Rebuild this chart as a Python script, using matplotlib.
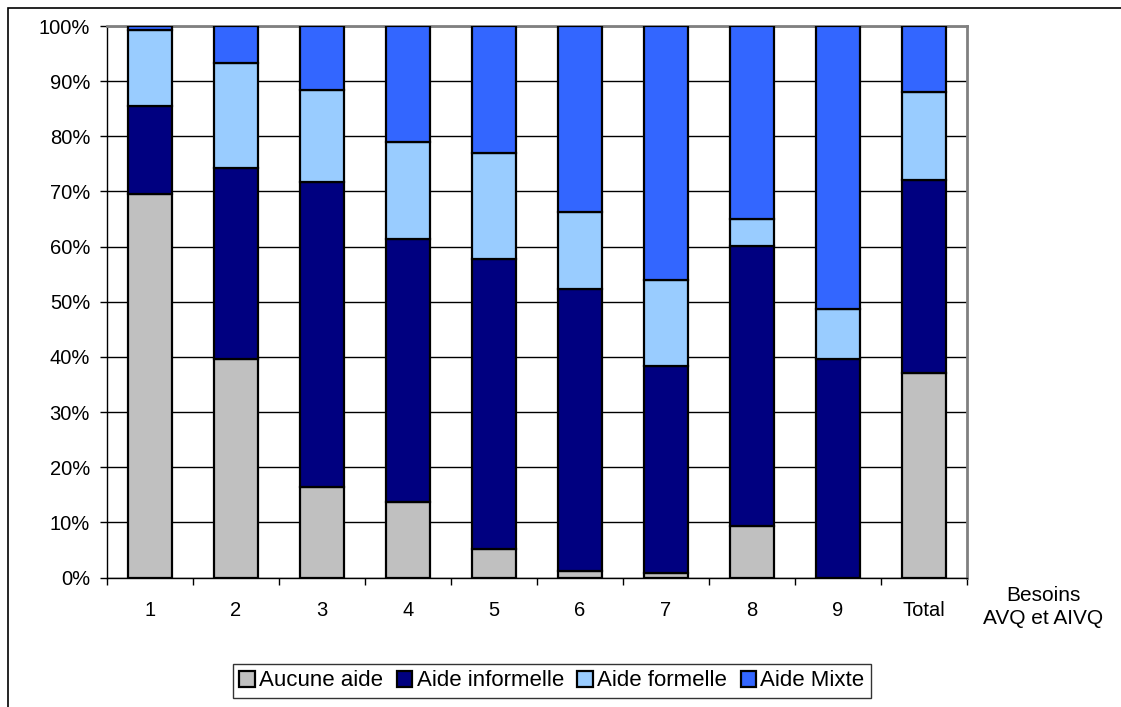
import matplotlib.pyplot as plt
import numpy as np
from matplotlib.patches import Rectangle

plt.rcParams['font.family'] = ['Liberation Sans', 'DejaVu Sans']

# categories (besoins AVQ et AIVQ)
categories = ['1', '2', '3', '4', '5', '6', '7', '8', '9', 'Total']

# parts en %
aucune = [69.5, 39.7, 16.5, 13.6, 5.1, 1.1, 0.9, 9.3, 0.0, 37.1]
informelle = [16.0, 34.6, 55.2, 47.8, 52.6, 51.2, 37.4, 50.8, 39.6, 35.0]
formelle = [13.7, 19.0, 16.7, 17.5, 19.3, 14.0, 15.6, 4.9, 9.0, 15.9]
mixte = [0.8, 6.7, 11.6, 21.1, 23.0, 33.7, 46.1, 35.0, 51.4, 12.0]

series = [('Aucune aide', aucune, '#C0C0C0'),
          ('Aide informelle', informelle, '#000080'),
          ('Aide formelle', formelle, '#99CCFF'),
          ('Aide Mixte', mixte, '#3366FF')]

fig = plt.figure(figsize=(11.21, 7.07), dpi=100)
ax = fig.add_axes([106.7/1121, 1-577.5/707, (966.7-106.7)/1121, (577.5-26)/707])

x = np.arange(len(categories))
bottom = np.zeros(len(categories))
for label, vals, col in series:
    ax.bar(x, vals, 0.51, bottom=bottom, color=col, edgecolor='black',
           linewidth=1.6, label=label, zorder=3)
    bottom += np.array(vals)

ax.set_xlim(-0.5, len(categories) - 0.5)
ax.set_ylim(0, 100)
ax.set_yticks(np.arange(0, 101, 10))
ax.set_yticklabels([f'{v}%' for v in range(0, 101, 10)], fontsize=14.5)
ax.yaxis.grid(True, color='black', linewidth=1, zorder=0)

ax.set_xticks(np.arange(-0.5, len(categories), 1))
ax.set_xticklabels([])
ax.set_xticks(x, minor=True)
ax.set_xticklabels(categories, minor=True, fontsize=14.5)
ax.tick_params(axis='x', which='major', direction='out', length=5, width=1)
ax.tick_params(axis='x', which='minor', length=0, pad=17)
ax.tick_params(axis='y', direction='out', length=5, width=1, pad=7)

for s in ['top', 'right']:
    ax.spines[s].set_color('#808080')
    ax.spines[s].set_linewidth(2)
for s in ['left', 'bottom']:
    ax.spines[s].set_color('black')
    ax.spines[s].set_linewidth(1)

fig.text(1043/1121, 1-607/707, 'Besoins\nAVQ et AIVQ', ha='center', va='center',
         fontsize=15, linespacing=1.3)

leg = fig.legend(loc='center', bbox_to_anchor=(552/1121, 1-681/707), ncol=4,
                 fontsize=16, frameon=True, fancybox=False, edgecolor='black',
                 handlelength=0.7, handleheight=0.7, handletextpad=0.2,
                 columnspacing=0.6, borderpad=0.3, borderaxespad=0)
leg.get_frame().set_linewidth(1)

# cadre du graphique
fig.patches.append(Rectangle((8/1121, -0.1), 1.2, 1.1 - 8/707, transform=fig.transFigure,
                             fill=False, edgecolor='black', linewidth=1.2))

fig.savefig('out.png', dpi=100)
